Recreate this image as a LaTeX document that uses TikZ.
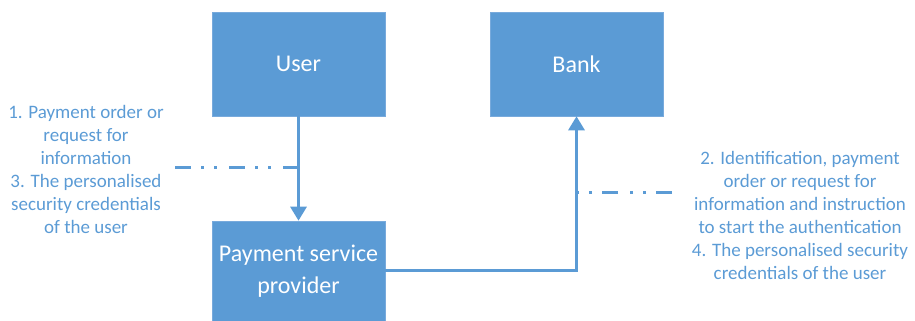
\documentclass[tikz,border=0pt]{standalone}
\usepackage{fontspec}
\setmainfont{Carlito}
\usetikzlibrary{arrows.meta}

\definecolor{boxblue}{RGB}{91, 155, 213}
\definecolor{boxedge}{RGB}{120, 170, 220}

\tikzset{
  party/.style={fill=boxblue, draw=boxedge, line width=0.6pt, text=white,
    minimum width=173pt, minimum height=104pt, align=center,
    font=\fontsize{24}{32}\selectfont},
  note/.style={text=boxblue, align=center, font=\fontsize{19}{23}\selectfont},
  flow/.style={draw=boxblue, line width=3pt, -{Triangle[width=16pt,length=14pt]}},
  dashdotdot/.style={draw=boxblue, line width=3pt,
    dash pattern=on 16pt off 10pt on 3pt off 10pt on 3pt off 12pt}
}

\begin{document}
\begin{tikzpicture}[x=1pt, y=1pt]
    \useasboundingbox (0,0) rectangle (915,321);

    % Die drei Beteiligten
    \node[party] (user) at (298.5,257) {User};
    \node[party] (bank) at (576.5,257) {Bank};
    \node[party, minimum height=100pt] (psp) at (298.5,50) {Payment service\\provider};

    % Pfeile zwischen den Kaesten
    \draw[flow] (user.south) -- (psp.north);
    \draw[flow] (psp.east) -| (bank.south);

    % Beschriftungen links und rechts
    \node[note] (lnote) at (86,152) {1. Payment order or\\request for\\information\\3. The personalised\\security credentials\\of the user};
    \node[note] (rnote) at (800,106) {2. Identification, payment\\order or request for\\information and instruction\\to start the authentication\\4. The personalised security\\credentials of the user};

    % Strich-Punkt-Linien zu den Pfeilen
    \coordinate (lend) at (175,153);
    \coordinate (ltap) at (298.5,153);
    \coordinate (rtap) at (576.5,128);
    \coordinate (rend) at (672,128);
    \draw[dashdotdot] (lend) -- (ltap);
    \draw[dashdotdot] (rend) -- (rtap);

\end{tikzpicture}
\end{document}
